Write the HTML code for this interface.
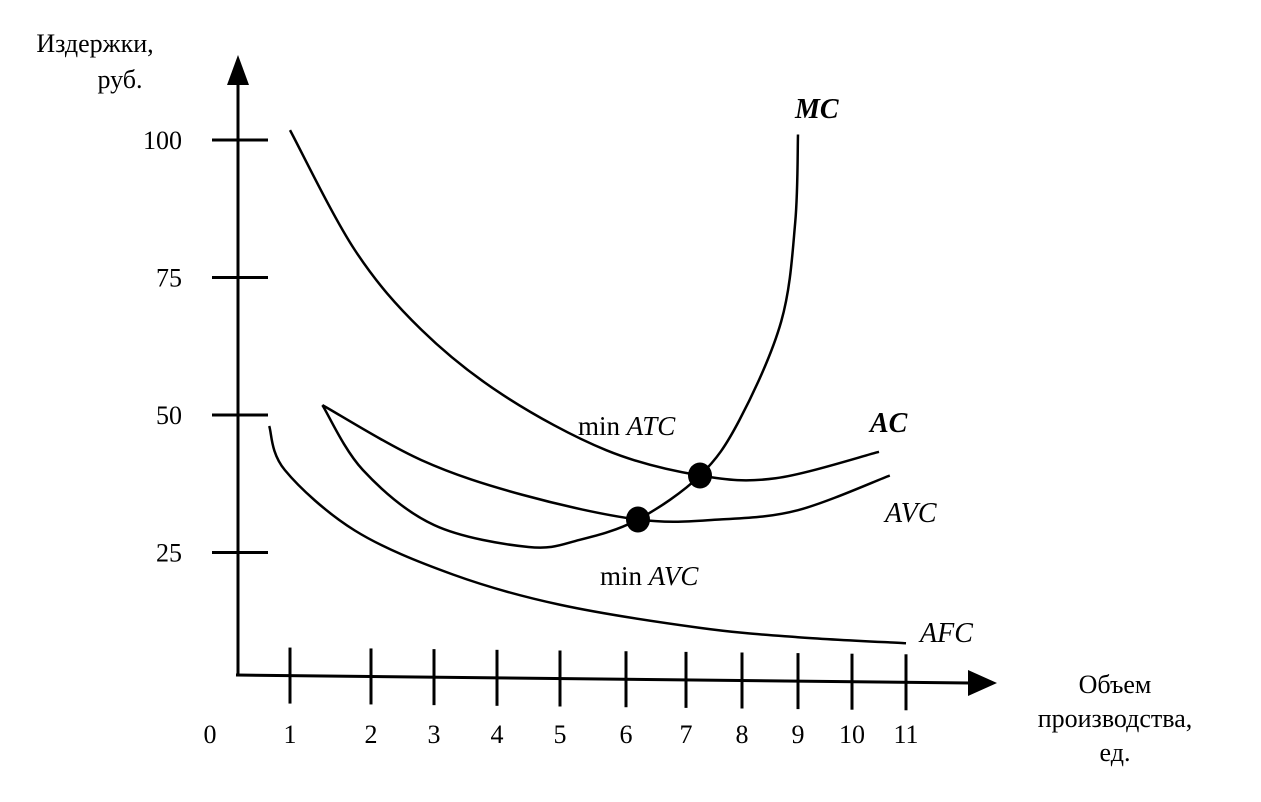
<!DOCTYPE html>
<html><head><meta charset="utf-8"><style>
body{margin:0;background:#fff}
svg{display:block;font-family:"Liberation Serif",serif}
</style></head><body>
<svg width="1261" height="802" viewBox="0 0 1261 802">
<g id="axes">
<line x1="238" y1="675" x2="238" y2="80" stroke="#000" stroke-width="3"/>
<polygon points="238,55 227,85 249,85" fill="#000"/>
<line x1="236" y1="675" x2="970" y2="683" stroke="#000" stroke-width="3"/>
<polygon points="997,683 968,670 968,696" fill="#000"/>
<text x="95" y="52" font-size="26" text-anchor="middle">Издержки,</text>
<text x="120" y="88" font-size="26" text-anchor="middle">руб.</text>
<text x="1115" y="693" font-size="26" text-anchor="middle">Объем</text>
<text x="1115" y="727" font-size="26" text-anchor="middle">производства,</text>
<text x="1115" y="761" font-size="26" text-anchor="middle">ед.</text>
<text x="210" y="743" font-size="26" text-anchor="middle">0</text>
</g>
<g id="ticks"></g>
<g id="curves"></g>
<g id="labels">
<text x="795" y="118" font-size="28" font-weight="bold" font-style="italic">MC</text>
<text x="870" y="432" font-size="28" font-weight="bold" font-style="italic">AC</text>
<text x="885" y="522" font-size="28" font-style="italic">AVC</text>
<text x="920" y="642" font-size="28" font-style="italic">AFC</text>
<text x="578" y="435" font-size="27">min <tspan font-style="italic">ATC</tspan></text>
<text x="600" y="585" font-size="27">min <tspan font-style="italic">AVC</tspan></text>
</g>
</svg>
<script>
const xTickValues=[1,2,3,4,5,6,7,8,9,10,11];
const yTickValues=[25,50,75,100];
const atc=[[1,101.8],[1.8,80],[2.8,65.5],[4.1,53.6],[5.7,43.6],[7.25,39],[8.6,38.5],[10.5,43.3]];
const mc=[[1.4,51.8],[1.9,40],[3,30],[4.5,26],[5.3,27.3],[6.2,31],[7.25,39],[7.95,49],[8.7,67],[8.95,85],[9,101]];
const avc=[[1.4,51.8],[2.8,41.8],[4.4,35.5],[6.2,31],[7.6,31],[9,32.7],[10.7,39]];
const afc=[[0.6,48],[0.9,40],[1.8,29],[3.3,21],[5,15.5],[7.25,11.3],[9,9.6],[11,8.5]];
const minPoints=[[7.25,39],[6.2,31]];
const NS="http://www.w3.org/2000/svg";
const xp=[238,290,371,434,497,560,626,686,742,798,852,906];
function X(v){const i=Math.max(0,Math.min(10,Math.floor(v)));return xp[i]+(xp[i+1]-xp[i])*(v-i);}
function Y(v){return 690-5.5*v;}
const tg=document.getElementById('ticks');
xTickValues.forEach(v=>{const x=X(v);const yb=675+(x-238)*8/734;
const l=document.createElementNS(NS,'line');l.setAttribute('x1',x);l.setAttribute('x2',x);l.setAttribute('y1',yb-28);l.setAttribute('y2',yb+28);l.setAttribute('stroke','#000');l.setAttribute('stroke-width','3');


tg.appendChild(l);
const t=document.createElementNS(NS,'text');t.setAttribute('x',x);t.setAttribute('y',743);t.setAttribute('font-size','26');t.setAttribute('text-anchor','middle');t.textContent=v;


tg.appendChild(t);});
yTickValues.forEach(v=>{const y=Y(v);
const l=document.createElementNS(NS,'line');l.setAttribute('x1',212);l.setAttribute('x2',268);l.setAttribute('y1',y);l.setAttribute('y2',y);l.setAttribute('stroke','#000');l.setAttribute('stroke-width','3');


tg.appendChild(l);
const t=document.createElementNS(NS,'text');t.setAttribute('x',182);t.setAttribute('y',y+9);t.setAttribute('font-size','26');t.setAttribute('text-anchor','end');t.textContent=v;


tg.appendChild(t);});
function path(pts){const p=pts.map(d=>[X(d[0]),Y(d[1])]);let s='M'+p[0][0]+','+p[0][1];
for(let i=0;i<p.length-1;i++){const p0=p[i-1]||p[i],p1=p[i],p2=p[i+1],p3=p[i+2]||p2;
s+=' C'+(p1[0]+(p2[0]-p0[0])/6)+','+(p1[1]+(p2[1]-p0[1])/6)+' '+(p2[0]-(p3[0]-p1[0])/6)+','+(p2[1]-(p3[1]-p1[1])/6)+' '+p2[0]+','+p2[1];}return s;}
const cg=document.getElementById('curves');
[[atc,'atc-curve'],[mc,'mc-curve'],[avc,'avc-curve'],[afc,'afc-curve']].forEach(([d,n])=>{
const p=document.createElementNS(NS,'path');p.setAttribute('d',path(d));p.setAttribute('fill','none');p.setAttribute('stroke','#000');p.setAttribute('stroke-width','2.5');


cg.appendChild(p);});
minPoints.forEach(d=>{const c=document.createElementNS(NS,'ellipse');c.setAttribute('cx',X(d[0]));c.setAttribute('cy',Y(d[1]));c.setAttribute('rx',12);c.setAttribute('ry',13);


cg.appendChild(c);});
</script>
</body></html>
